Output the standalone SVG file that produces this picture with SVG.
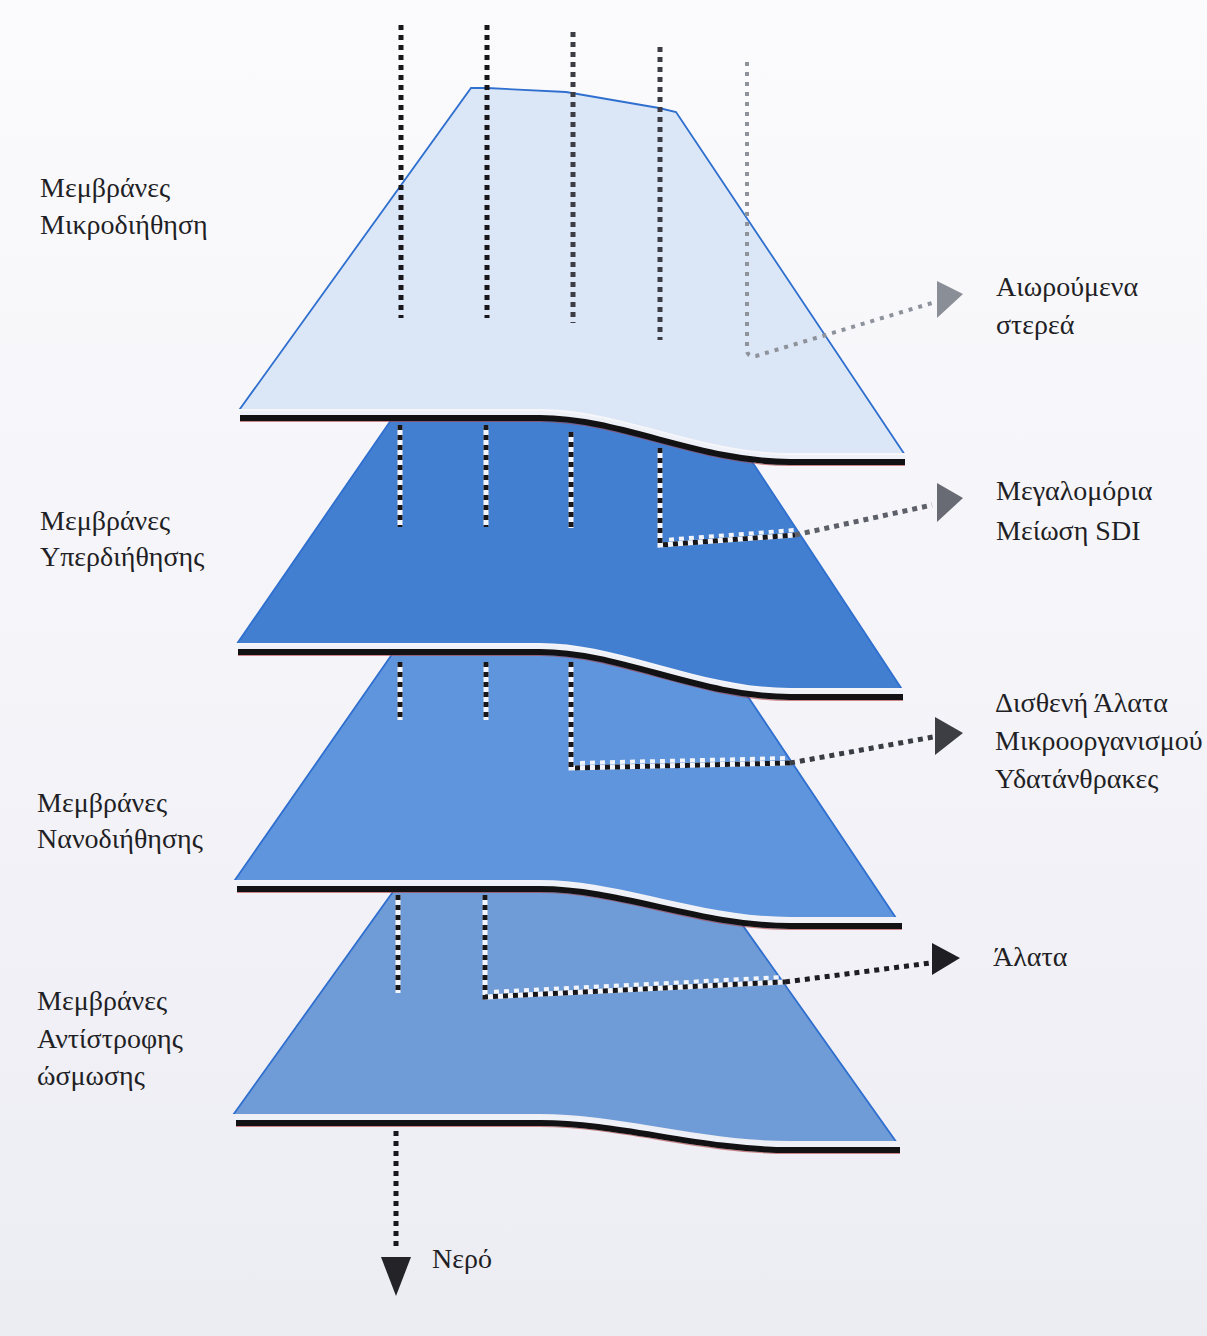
<svg xmlns="http://www.w3.org/2000/svg" width="1207" height="1336" viewBox="0 0 1207 1336">
<defs>
<style>
.lbl{font-family:"Liberation Serif","DejaVu Serif",serif;font-size:28px;fill:#1f1f25;}
.dotB{stroke:#17171b;stroke-width:5;stroke-dasharray:5 5;fill:none;}
.dotW{stroke:#f3f5fa;stroke-width:5;fill:none;}
.dotWd{stroke:#f3f5fa;stroke-width:4;stroke-dasharray:5 5;stroke-dashoffset:5;fill:none;}
.dotG1{stroke:#3c3d44;stroke-width:5;stroke-dasharray:5 5;fill:none;}
.dotG2{stroke:#8e929b;stroke-width:4;stroke-dasharray:4 6;fill:none;}
.mem{stroke:#121214;stroke-width:6;fill:none;}
.memW{stroke:#eef1f7;stroke-width:4;fill:none;}
.memR{stroke:#b23a3a;stroke-width:1.2;fill:none;opacity:.6;}
.edge{stroke:#2f6fcf;stroke-width:1.8;}
</style>
<linearGradient id="bg" x1="0" y1="0" x2="0" y2="1">
<stop offset="0" stop-color="#fbfbfd"/>
<stop offset="0.5" stop-color="#f4f4f9"/>
<stop offset="1" stop-color="#ececf3"/>
</linearGradient>
<clipPath id="c1"><path d="M150,0 L1000,0 L1000,453 L790,453 C700,453 620,409 540,409 L150,409 Z"/></clipPath>
<clipPath id="c2"><path d="M150,418 L540,418 C620,418 700,462 790,462 L1000,462 L1000,688 L790,688 C700,688 620,643 540,643 L150,643 Z"/></clipPath>
<clipPath id="c3"><path d="M150,652 L540,652 C620,652 700,697 790,697 L1000,697 L1000,917 L790,917 C700,917 620,880 540,880 L150,880 Z"/></clipPath>
<clipPath id="c4"><path d="M150,889 L540,889 C620,889 700,926 790,926 L1000,926 L1000,1141 L790,1141 C700,1141 620,1114 540,1114 L150,1114 Z"/></clipPath>
</defs>
<rect x="0" y="0" width="1207" height="1336" fill="url(#bg)"/>

<g id="layer-microfiltration">
<path clip-path="url(#c1)" class="edge" fill="#dbe6f6" d="M232,420 L471,88 L487,88 L566,92 L659,108 L676,112 L915,470 Z"/>
</g>
<g id="layer-ultrafiltration">
<path clip-path="url(#c2)" class="edge" fill="#437fd0" d="M232,651 L398,410 L718,410 L909,700 Z"/>
</g>
<g id="layer-nanofiltration">
<path clip-path="url(#c3)" class="edge" fill="#5f95dc" d="M228,890 L402,640 L710,640 L904,930 Z"/>
</g>
<g id="layer-reverse-osmosis">
<path clip-path="url(#c4)" class="edge" fill="#6f9cd6" d="M208,1150 L405,875 L707,875 L902,1150 Z"/>
</g>

<g id="membranes">
<path class="memW" d="M240,413 L540,413 C620,413 700,457 790,457 L905,457"/>
<path class="memR" d="M240,421.5 L540,421.5 C620,421.5 700,465.5 790,465.5 L905,465.5"/>
<path class="mem" d="M240,418 L540,418 C620,418 700,462 790,462 L905,462"/>
<path class="memW" d="M238,647 L540,647 C620,647 700,692 790,692 L903,692"/>
<path class="memR" d="M238,655.5 L540,655.5 C620,655.5 700,700.5 790,700.5 L903,700.5"/>
<path class="mem" d="M238,652 L540,652 C620,652 700,697 790,697 L903,697"/>
<path class="memW" d="M237,884 L540,884 C620,884 700,921 790,921 L902,921"/>
<path class="memR" d="M237,892.5 L540,892.5 C620,892.5 700,929.5 790,929.5 L902,929.5"/>
<path class="mem" d="M237,889 L540,889 C620,889 700,926 790,926 L902,926"/>
<path class="memW" d="M236,1118 L540,1118 C620,1118 700,1145 790,1145 L900,1145"/>
<path class="memR" d="M236,1126.5 L540,1126.5 C620,1126.5 700,1153.5 790,1153.5 L900,1153.5"/>
<path class="mem" d="M236,1123 L540,1123 C620,1123 700,1150 790,1150 L900,1150"/>
</g>

<g id="connectors">
<path class="dotB" d="M401,25 V318"/>
<path class="dotB" d="M487,25 V318"/>
<path class="dotG1" d="M573,32 V323"/>
<path class="dotG1" d="M660,47 V340"/>
<path class="dotG2" d="M747,62 V350 Q747,357 756,356 L932,303"/>
<polygon points="937,281 963,294 937,318" fill="#8a8e97"/>

<path class="dotW" d="M400,425 V527 M486,425 V527 M571,432 V528 M660,448 V545 L795,535"/>
<path class="dotB" d="M400,425 V527 M486,425 V527 M571,432 V528 M660,448 V545 L795,535"/>
<path class="dotWd" d="M664,540 L795,530"/>
<path stroke="#5d6068" stroke-width="5" stroke-dasharray="5 5" fill="none" d="M795,535 L932,505"/>
<polygon points="937,483 963,498 937,522" fill="#686b73"/>

<path class="dotW" d="M400,662 V720 M486,662 V720 M571,662 V768 L790,763"/>
<path class="dotB" d="M400,662 V720 M486,662 V720 M571,662 V768 L790,763"/>
<path class="dotWd" d="M575,763 L790,758"/>
<path stroke="#3b3d44" stroke-width="5" stroke-dasharray="5 5" fill="none" d="M790,763 L933,737"/>
<polygon points="935,717 963,733 935,755" fill="#3c3e44"/>

<path class="dotW" d="M398,895 V993 M485,895 V997 L785,982"/>
<path class="dotB" d="M398,895 V993 M485,895 V997 L785,982"/>
<path class="dotWd" d="M489,992 L785,977"/>
<path stroke="#1d1d22" stroke-width="5" stroke-dasharray="5 5" fill="none" d="M785,982 L930,963"/>
<polygon points="932,943 960,958 932,975" fill="#1e1e23"/>

<path class="dotB" d="M396,1131 V1250"/>
<polygon points="381,1257 411,1257 396,1296" fill="#232328"/>
</g>

<g id="labels-left">
<text class="lbl" x="40" y="197">Μεμβράνες</text>
<text class="lbl" x="40" y="234">Μικροδιήθηση</text>
<text class="lbl" x="40" y="530">Μεμβράνες</text>
<text class="lbl" x="40" y="566">Υπερδιήθησης</text>
<text class="lbl" x="37" y="812">Μεμβράνες</text>
<text class="lbl" x="37" y="848">Νανοδιήθησης</text>
<text class="lbl" x="37" y="1010">Μεμβράνες</text>
<text class="lbl" x="37" y="1048">Αντίστροφης</text>
<text class="lbl" x="37" y="1085">ώσμωσης</text>
</g>
<g id="labels-right">
<text class="lbl" x="996" y="296">Αιωρούμενα</text>
<text class="lbl" x="996" y="334">στερεά</text>
<text class="lbl" x="996" y="500">Μεγαλομόρια</text>
<text class="lbl" x="996" y="540">Μείωση SDI</text>
<text class="lbl" x="995" y="712">Δισθενή Άλατα</text>
<text class="lbl" x="995" y="750">Μικροοργανισμού</text>
<text class="lbl" x="995" y="788">Υδατάνθρακες</text>
<text class="lbl" x="993" y="966">Άλατα</text>
<text class="lbl" x="432" y="1268">Νερό</text>
</g>
</svg>
